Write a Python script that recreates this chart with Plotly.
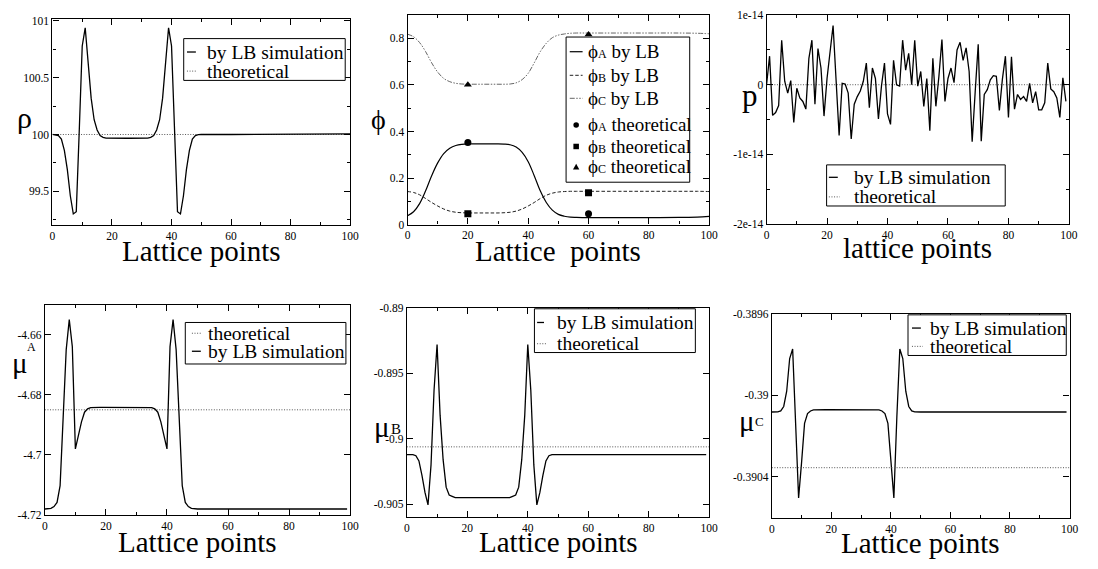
import plotly.graph_objects as go

W, H = 1098, 569
SERIF = "Liberation Serif, DejaVu Serif, serif"


def fx(p):
    return p / W


def fy(p):
    return 1 - p / H


# ---------------- data ----------------
# density rho along the lattice
rho_x = list(range(0, 51)) + [60, 70, 80, 90, 100]
rho_lb = [100.0, 99.998, 99.99, 99.96, 99.86, 99.69, 99.46, 99.30, 99.32, 100.03,
          100.78, 100.94, 100.63, 100.32, 100.13, 100.04, 99.99, 99.975, 99.968,
          99.967, 99.967, 99.967, 99.967, 99.967, 99.967, 99.967, 99.967, 99.967,
          99.967, 99.967, 99.967, 99.967,
          99.968, 99.975, 99.99, 100.04, 100.13, 100.32, 100.63, 100.94, 100.78,
          100.03, 99.32, 99.30, 99.46, 99.69, 99.86, 99.96, 99.99, 99.998, 100.0,
          100.0, 100.0, 100.0, 100.0, 100.005]
rho_theory = 100.0

# volume fractions phi^A, phi^B, phi^C
phi_x = [0, 2, 4, 6, 8, 10, 12, 14, 16, 18, 20, 22, 24, 26, 28, 30,
         32, 34, 36, 38, 40, 42, 44, 46, 48, 50, 52, 54, 56,
         60, 70, 80, 90, 96, 100]
phiA_lb = [0.038, 0.055, 0.09, 0.145, 0.21, 0.265, 0.305, 0.328, 0.34, 0.345,
           0.347, 0.347, 0.347, 0.347, 0.347, 0.347,
           0.346, 0.343, 0.333, 0.31, 0.27, 0.21, 0.145, 0.095, 0.062, 0.044,
           0.036, 0.032, 0.031,
           0.030, 0.030, 0.030, 0.031, 0.032, 0.035]
phiB_lb = [0.142, 0.138, 0.128, 0.112, 0.095, 0.08, 0.067, 0.058, 0.053, 0.051,
           0.05, 0.05, 0.05, 0.05, 0.05, 0.05,
           0.051, 0.053, 0.058, 0.067, 0.08, 0.095, 0.112, 0.126, 0.135, 0.14,
           0.142, 0.143, 0.143,
           0.143, 0.143, 0.143, 0.143, 0.143, 0.142]
phiC_lb = [0.818, 0.807, 0.782, 0.743, 0.695, 0.655, 0.628, 0.614, 0.607, 0.604,
           0.603, 0.603, 0.603, 0.603, 0.603, 0.603,
           0.603, 0.604, 0.609, 0.623, 0.65, 0.695, 0.743, 0.779, 0.803, 0.814,
           0.819, 0.822, 0.823,
           0.823, 0.823, 0.823, 0.823, 0.822, 0.82]
phi_theory_x = [20, 60]
phiA_theory = [0.353, 0.047]
phiB_theory = [0.047, 0.137]
phiC_theory = [0.601, 0.817]

# pressure fluctuation (units of 1e-14)
p_x = list(range(0, 100))
p_lb_e14 = [0.0, 0.41, -0.44, -0.40, -0.30, 0.64, 0.05, -0.12, 0.06, -0.54,
            -0.05, -0.19, -0.24, -0.35, 0.38, 0.64, -0.28, 0.52, 0.24, -0.45,
            0.09, 0.50, 0.85, 0.06, -0.73, 0.02, 0.01, -0.12, -0.78, -0.28,
            -0.17, -0.09, 0.05, 0.31, -0.33, 0.24, 0.09, -0.49, -0.02, 0.31,
            -0.42, -0.57, 0.35, 0.0, -0.02, 0.64, 0.21, 0.45, 0.0, 0.64,
            -0.02, 0.19, -0.31, 0.09, -0.66, 0.38, -0.31, 0.12, 0.65, -0.24,
            0.09, 0.24, 0.03, 0.50, 0.61, 0.35, 0.53, 0.19, -0.82, -0.10,
            0.58, -0.81, -0.14, -0.07, 0.07, 0.13, 0.12, -0.37, 0.08, 0.41,
            -0.47, 0.40, -0.35, -0.14, -0.21, -0.17, -0.24, 0.02, -0.26, -0.10,
            -0.36, -0.36, -0.26, 0.31, -0.06, -0.10, -0.19, -0.47, 0.10, -0.24]
p_lb = [v * 1e-14 for v in p_lb_e14]
p_theory = 0.0

# chemical potentials
mu_x = list(range(0, 51)) + [60, 70, 80, 90, 99]
muA_lb = [-4.718, -4.718, -4.7178, -4.7172, -4.7158, -4.7102, -4.690, -4.665,
          -4.655, -4.664, -4.698, -4.6935, -4.689, -4.6858, -4.6847, -4.6843,
          -4.6842, -4.6842, -4.6842, -4.6842, -4.6842, -4.6842, -4.6842,
          -4.6842, -4.6842, -4.6842, -4.6842, -4.6842, -4.6842, -4.6842,
          -4.6842, -4.6842, -4.6842, -4.6842, -4.6842,
          -4.6843, -4.6847, -4.6858, -4.689, -4.6935, -4.698, -4.664, -4.655,
          -4.665, -4.690, -4.7102, -4.7158, -4.7172, -4.7178, -4.718, -4.718,
          -4.718, -4.718, -4.718, -4.718, -4.718]
muA_theory = -4.685

muB_lb = [-0.90121, -0.90121, -0.90122, -0.9013, -0.9017, -0.9028, -0.9041,
          -0.90505, -0.9020, -0.8963, -0.8928, -0.8982, -0.9016, -0.9037,
          -0.9043, -0.9044,
          -0.9045, -0.9045, -0.9045, -0.9045, -0.9045, -0.9045, -0.9045,
          -0.9045, -0.9045, -0.9045, -0.9045, -0.9045, -0.9045, -0.9045,
          -0.9045, -0.9045, -0.9045, -0.9045, -0.9045,
          -0.9044, -0.9043, -0.9037, -0.9016, -0.8982, -0.8928, -0.8963,
          -0.9020, -0.90505, -0.9041, -0.9028, -0.9017, -0.9013, -0.90122,
          -0.90121, -0.90121,
          -0.90121, -0.90121, -0.90121, -0.90121, -0.90121]
muB_theory = -0.90062

muC_lb = [-0.390082, -0.390082, -0.390081, -0.390077, -0.390055, -0.38998,
          -0.38982, -0.389773, -0.390106, -0.390503, -0.390329, -0.390138,
          -0.39009, -0.390077, -0.390072,
          -0.390071, -0.390071, -0.390071, -0.390071, -0.390071, -0.390071,
          -0.390071, -0.390071, -0.390071, -0.390071, -0.390071, -0.390071,
          -0.390071, -0.390071, -0.390071, -0.390071, -0.390071, -0.390071,
          -0.390071, -0.390071, -0.390071,
          -0.390072, -0.390077, -0.39009, -0.390138, -0.390329, -0.390503,
          -0.390106, -0.389773, -0.38982, -0.38998, -0.390055, -0.390077,
          -0.390081, -0.390082, -0.390082,
          -0.390082, -0.390082, -0.390082, -0.390082, -0.390082]
muC_theory = -0.390355

theory_x = [0, 100]

# ---------------- styles ----------------
LB_LINE = dict(color="black", width=1.3)
TH_LINE = dict(color="#555555", width=1, dash="1px,1.6px")
PHI_B_LINE = dict(color="#222222", width=1, dash="3.5px,2px")
PHI_C_LINE = dict(color="#666666", width=1, dash="5px,1.5px,1.5px,1.5px,1.5px,1.5px")
PHI = "\u03d5"

fig = go.Figure()


def add(xs, ys, n, line=None, mode="lines", marker=None, shape="linear"):
    ax = "" if n == 1 else str(n)
    kw = dict(x=xs, y=ys, mode=mode, xaxis="x" + ax, yaxis="y" + ax,
              showlegend=False, hoverinfo="skip")
    if line is not None:
        kw["line"] = dict(line, shape=shape)
    if marker is not None:
        kw["marker"] = marker
    fig.add_trace(go.Scatter(**kw))


add(theory_x, [rho_theory, rho_theory], 1, TH_LINE)
add(rho_x, rho_lb, 1, LB_LINE)

add(phi_x, phiA_lb, 2, dict(color="black", width=1.2), shape="spline")
add(phi_x, phiB_lb, 2, PHI_B_LINE, shape="spline")
add(phi_x, phiC_lb, 2, PHI_C_LINE, shape="spline")
add(phi_theory_x, phiA_theory, 2, mode="markers",
    marker=dict(symbol="circle", size=7, color="black"))
add(phi_theory_x, phiB_theory, 2, mode="markers",
    marker=dict(symbol="square", size=7, color="black"))
add(phi_theory_x, phiC_theory, 2, mode="markers",
    marker=dict(symbol="triangle-up", size=7, color="black"))

add(theory_x, [p_theory, p_theory], 3, TH_LINE)
add(p_x, p_lb, 3, LB_LINE)

add(theory_x, [muA_theory, muA_theory], 4, TH_LINE)
add(mu_x, muA_lb, 4, LB_LINE)

add(mu_x, muB_lb, 5, LB_LINE)
add(theory_x, [muB_theory, muB_theory], 5, TH_LINE)

add(mu_x, muC_lb, 6, LB_LINE)
add(theory_x, [muC_theory, muC_theory], 6, TH_LINE)

# ---------------- axes ----------------
panels = [
    dict(px=(50, 351), py=(13, 224), yr=[99.2, 101.02],
         yt=[99.5, 100, 100.5, 101], ytt=["99.5", "100", "100.5", "101"], ym=0.25),
    dict(px=(409, 714), py=(9.3, 223.3), yr=[0, 0.9],
         yt=[0, 0.2, 0.4, 0.6, 0.8], ytt=["0", "0.2", "0.4", "0.6", "0.8"], ym=0.1),
    dict(px=(772, 1077.7), py=(9.3, 222.7), yr=[-2e-14, 1e-14],
         yt=[-2e-14, -1e-14, 0, 1e-14], ytt=["-2e-14", "-1e-14", "0", "1e-14"], ym=0.5e-14),
    dict(px=(42.3, 351), py=(305, 520), yr=[-4.72, -4.65],
         yt=[-4.72, -4.70, -4.68, -4.66], ytt=["-4.72", "-4.7", "-4.68", "-4.66"], ym=None),
    dict(px=(408.3, 714), py=(308.3, 522.3), yr=[-0.906, -0.89],
         yt=[-0.905, -0.9, -0.895, -0.89], ytt=["-0.905", "-0.9", "-0.895", "-0.89"], ym=None),
    dict(px=(777.3, 1078.3), py=(314.3, 522.7), yr=[-0.3906, -0.3896],
         yt=[-0.3904, -0.39, -0.3896], ytt=["-0.3904", "-0.39", "-0.3896"], ym=None),
]

tickfont = dict(family=SERIF, size=11.5, color="black")
common = dict(showline=True, linecolor="black", linewidth=1.2, mirror="ticks",
              ticks="inside", ticklen=6, tickwidth=1, tickcolor="black",
              showgrid=False, zeroline=False, tickfont=tickfont, fixedrange=True)

layout_axes = {}
for i, pnl in enumerate(panels, start=1):
    s = "" if i == 1 else str(i)
    layout_axes["xaxis" + s] = dict(
        common, domain=[fx(pnl["px"][0]), fx(pnl["px"][1])], range=[0, 100],
        anchor="y" + s, tickvals=[0, 20, 40, 60, 80, 100],
        ticktext=["0", "20", "40", "60", "80", "100"],
        minor=dict(ticks="inside", ticklen=3, tickwidth=1, tickcolor="black",
                   dtick=10, tick0=0, showgrid=False))
    ydict = dict(
        common, domain=[fy(pnl["py"][1]), fy(pnl["py"][0])], range=pnl["yr"],
        anchor="x" + s, tickvals=pnl["yt"], ticktext=pnl["ytt"])
    if pnl["ym"] is not None:
        ydict["minor"] = dict(ticks="inside", ticklen=3, tickwidth=1, tickcolor="black",
                              dtick=pnl["ym"], tick0=0, showgrid=False)
    layout_axes["yaxis" + s] = ydict

annotations = []
shapes = []


def text(x, y, s, size, xanchor="center", yanchor="middle"):
    annotations.append(dict(x=fx(x), y=fy(y), xref="paper", yref="paper", text=s,
                            showarrow=False, xanchor=xanchor, yanchor=yanchor,
                            font=dict(family=SERIF, size=size, color="black")))


# axis titles
for xc, yc, s in [(200.5, 250, "Lattice points"), (561.5, 250, "Lattice\u00a0 points"),
                  (925, 247, "lattice points"), (196.6, 548, "Lattice points"),
                  (561.2, 548, "Lattice points"), (927.8, 549, "Lattice points")]:
    text(xc, yc, s, 29)

text(21.5, 114, "ρ", 30)
text(380, 116, PHI, 28)
text(755, 91, "p", 31)
text(17, 365, "μ", 29)
text(29, 348, "A", 12)
text(383, 430, "μ", 29)
text(397.5, 432, "B", 15)
text(752, 424, "μ", 29)
text(764.5, 424, "C", 13)


def box(x0, y0, x1, y1):
    shapes.append(dict(type="rect", xref="paper", yref="paper", x0=fx(x0), x1=fx(x1),
                       y0=fy(y1), y1=fy(y0), line=dict(color="black", width=1),
                       fillcolor="white", layer="above"))


def sample(x0, x1, y, line):
    shapes.append(dict(type="line", xref="paper", yref="paper", x0=fx(x0), x1=fx(x1),
                       y0=fy(y), y1=fy(y), line=line, layer="above"))


LEG = 19.5
TH_SAMPLE = dict(color="#555555", width=1, dash="1px,1.6px")
LB_SAMPLE = dict(color="black", width=1.3)

# rho legend
box(182.7, 33.3, 346, 76)
sample(186, 195, 47, LB_SAMPLE)
sample(186, 196, 66.5, TH_SAMPLE)
text(204, 47, "by LB simulation", LEG, xanchor="left")
text(204, 66.5, "theoretical", LEG, xanchor="left")

# p legend
box(832.7, 162.3, 1013.3, 204.3)
sample(835, 844, 175, LB_SAMPLE)
sample(835, 846, 195, TH_SAMPLE)
text(858, 175, "by LB simulation", LEG, xanchor="left")
text(858, 195, "theoretical", LEG, xanchor="left")

# mu^A legend
box(184.3, 323.3, 346.7, 365.7)
sample(191, 201, 334.3, TH_SAMPLE)
sample(191, 200, 352.7, LB_SAMPLE)
text(205.5, 334.3, "theoretical", LEG, xanchor="left")
text(205.5, 352.7, "by LB simulation", LEG, xanchor="left")

# mu^B legend
box(537.3, 309.3, 700, 354)
sample(540, 547, 323.3, LB_SAMPLE)
sample(540, 549, 345, TH_SAMPLE)
text(558, 323.3, "by LB simulation", LEG, xanchor="left")
text(558, 345, "theoretical", LEG, xanchor="left")

# mu^C legend
box(915, 315.5, 1075, 357)
sample(919, 928, 329, LB_SAMPLE)
sample(919, 930, 347.7, TH_SAMPLE)
text(935, 329, "by LB simulation", LEG, xanchor="left")
text(935, 347.7, "theoretical", LEG, xanchor="left")

# phi legend
box(569.3, 31.7, 694.3, 180)
rows = [46.7, 70.8, 94.3, 121.5, 143.5, 164.3]
sample(573, 586, rows[0], dict(color="black", width=1.2))
sample(573, 586, rows[1], PHI_B_LINE)
sample(573, 586, rows[2], PHI_C_LINE)
cx, r = 579.5, 2.8
shapes.append(dict(type="circle", xref="paper", yref="paper", x0=fx(cx - r), x1=fx(cx + r),
                   y0=fy(rows[3] + r), y1=fy(rows[3] - r), fillcolor="black",
                   line=dict(color="black", width=0), layer="above"))
shapes.append(dict(type="rect", xref="paper", yref="paper", x0=fx(cx - r), x1=fx(cx + r),
                   y0=fy(rows[4] + r), y1=fy(rows[4] - r), fillcolor="black",
                   line=dict(color="black", width=0), layer="above"))
ty = rows[5]
shapes.append(dict(type="path", xref="paper", yref="paper",
                   path=f"M {fx(cx - 3.2)} {fy(ty + 2.8)} L {fx(cx + 3.2)} {fy(ty + 2.8)} "
                        f"L {fx(cx)} {fy(ty - 3.2)} Z",
                   fillcolor="black", line=dict(color="black", width=0), layer="above"))
SUP = "<span style='font-size:12px'>{}</span>"
labels = [PHI + SUP.format("A") + " by LB", PHI + SUP.format("B") + " by LB",
          PHI + SUP.format("C") + " by LB", PHI + SUP.format("A") + " theoretical",
          PHI + SUP.format("B") + " theoretical", PHI + SUP.format("C") + " theoretical"]
for yy, lab in zip(rows, labels):
    text(589, yy, lab, 19, xanchor="left")

fig.update_layout(
    width=W, height=H, margin=dict(l=0, r=0, t=0, b=0),
    paper_bgcolor="white", plot_bgcolor="white",
    annotations=annotations, shapes=shapes, **layout_axes)

fig.write_html("out.html")
